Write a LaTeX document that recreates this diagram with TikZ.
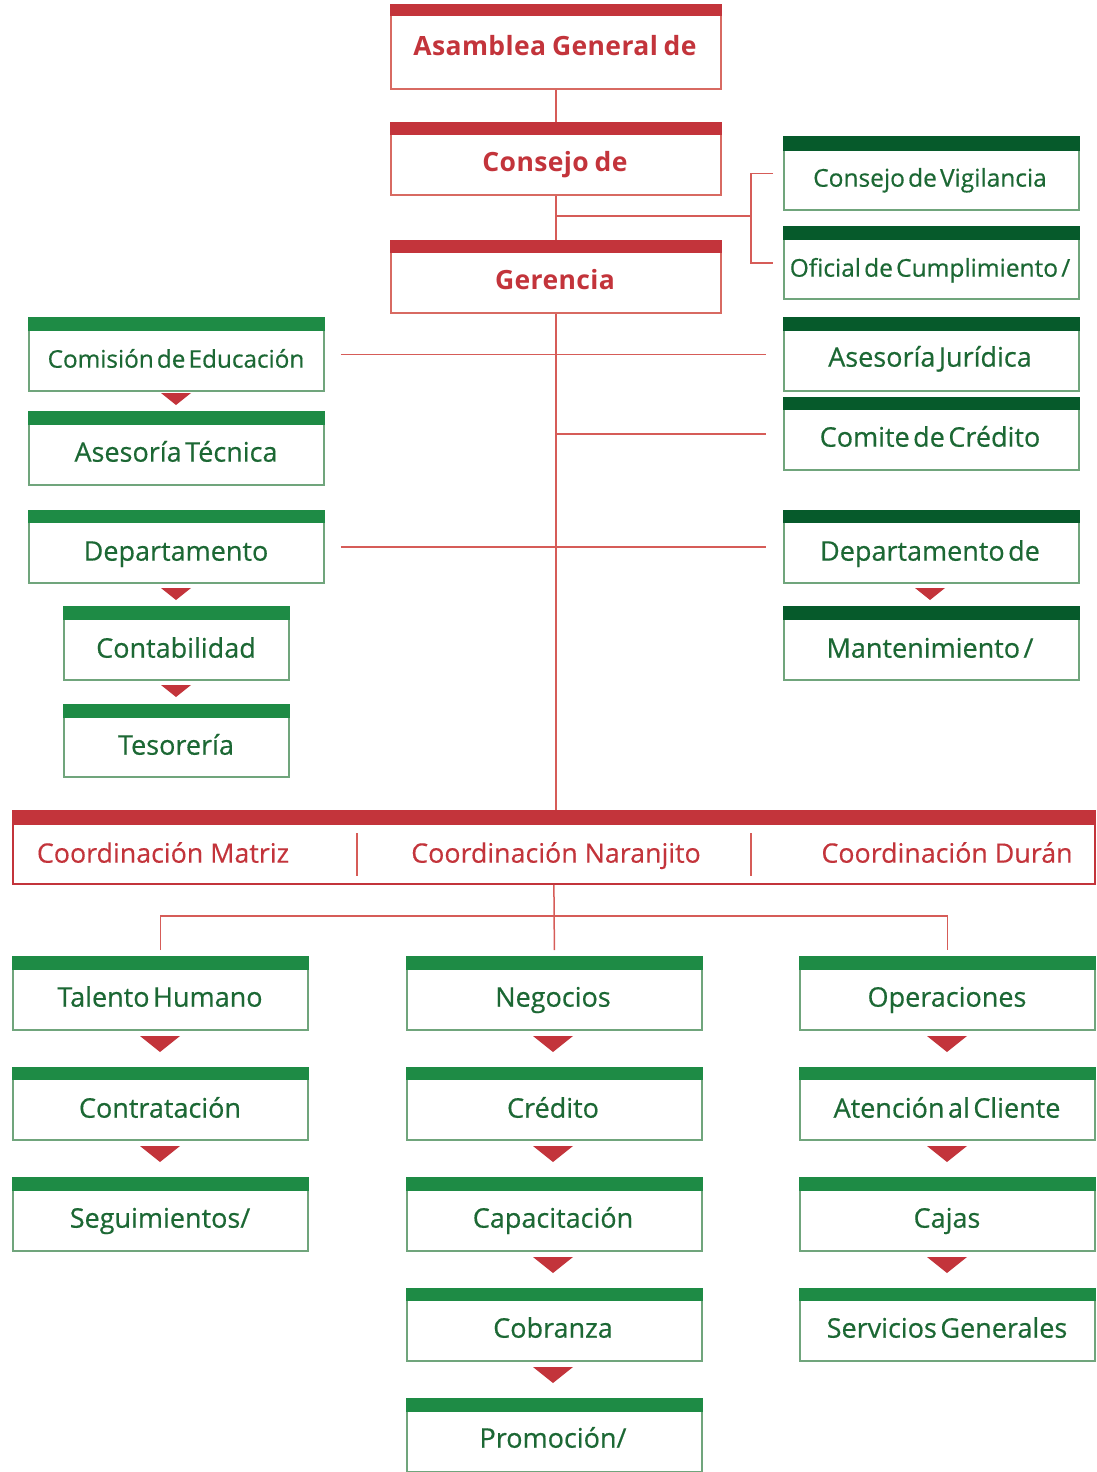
\documentclass[tikz,border=0pt]{standalone}
\usepackage{fontspec}
\setmainfont{Open Sans}
\newfontfamily\gfont[WordSpace=0.5, FakeBold=0.5]{Open Sans}
\newfontfamily\rfont[LetterSpace=1.5, WordSpace=0.8]{Open Sans}
\newfontfamily\cfont[FakeBold=0.3]{Open Sans}
\definecolor{tred}{RGB}{195,52,59}
\definecolor{lred}{RGB}{214,92,88}
\definecolor{fred}{RGB}{216,106,98}
\definecolor{gbarL}{RGB}{30,139,69}
\definecolor{gbarD}{RGB}{6,90,43}
\definecolor{gtext}{RGB}{28,104,52}
\definecolor{gframe}{RGB}{112,165,124}
\newcommand\OBox[8]{% name, x, y, w, h, frame col, bar col, bar height
  \node[obox, draw=#6, minimum width=#4pt, minimum height=#5pt] (#1) at (#2,#3) {};
  \fill[#7] (#1.north west) rectangle ([yshift=-#8pt]#1.north east);
}
\tikzset{
  obox/.style={rectangle, line width=1.8pt, anchor=north west, inner sep=0pt, fill=white},
  gtxt/.style={text=gtext, font=\gfont\fontsize{27}{28}\selectfont, anchor=mid, inner sep=0pt, yshift=-6pt},
  gsz/.style={font=\gfont\fontsize{#1}{28}\selectfont},
  rtxt/.style={text=tred, font=\rfont\fontsize{26.5}{28}\selectfont\bfseries, anchor=mid, inner sep=0pt, yshift=-6pt},
  ctxt/.style={text=tred, font=\cfont\fontsize{26.8}{28}\selectfont, anchor=mid, inner sep=0pt, yshift=-6pt},
  conn/.style={draw=lred, line width=1.5pt},
  tri/.style={fill=tred},
}
\begin{document}
\begin{tikzpicture}[x=1pt,y=-1pt]
\useasboundingbox (0,0) rectangle (1097,1472);
\coordinate (br) at (751,216);
\coordinate (hb) at (553,916);
% top red boxes
\OBox{asam}{390}{4}{330}{84}{fred}{tred}{12}
\node[rtxt] at (555,47) {Asamblea General de};
\OBox{cons}{390}{122}{330}{72}{fred}{tred}{13}
\node[rtxt] at (555,163) {Consejo de};
\OBox{ger}{390}{240}{330}{72}{fred}{tred}{13}
\node[rtxt] at (555,281) {Gerencia};
% right top
\OBox{vig}{783}{136}{295}{73}{gframe}{gbarD}{15}
\node[gtxt, gsz=24.5] at (930,178) {Consejo de Vigilancia};
\OBox{ofi}{783}{226}{295}{72}{gframe}{gbarD}{14}
\node[gtxt, gsz=24.5] at (930,268) {Oficial de Cumplimiento /};
% left
\OBox{com}{28}{317}{295}{73}{gframe}{gbarL}{14}
\node[gtxt, gsz=24.3] at (176,359) {Comisión de Educación};
\OBox{atec}{28}{411}{295}{73}{gframe}{gbarL}{14}
\node[gtxt] at (176,453) {Asesoría Técnica};
\OBox{dep}{28}{510}{295}{72}{gframe}{gbarL}{13}
\node[gtxt] at (176,552) {Departamento};
\OBox{cont}{63}{606}{225}{73}{gframe}{gbarL}{14}
\node[gtxt] at (176,649) {Contabilidad};
\OBox{tes}{63}{704}{225}{72}{gframe}{gbarL}{14}
\node[gtxt] at (176,746) {Tesorería};
% right
\OBox{ajur}{783}{317}{295}{73}{gframe}{gbarD}{14}
\node[gtxt] at (930,358) {Asesoría Jurídica};
\OBox{ccre}{783}{397}{295}{72}{gframe}{gbarD}{13}
\node[gtxt] at (930,438) {Comite de Crédito};
\OBox{dmant}{783}{510}{295}{72}{gframe}{gbarD}{13}
\node[gtxt] at (930,552) {Departamento de};
\OBox{mant}{783}{606}{295}{73}{gframe}{gbarD}{14}
\node[gtxt] at (930,649) {Mantenimiento /};
% coordination bar
\OBox{coord}{12}{810}{1082}{73}{tred}{tred}{15}
\node[ctxt] at (163,854) {Coordinación Matriz};
\node[ctxt] at (556,854) {Coordinación Naranjito};
\node[ctxt] at (947,854) {Coordinación Durán};
\draw[conn] (357,833) -- (357,876);
\draw[conn] (751,833) -- (751,876);
% bottom columns
\OBox{tal}{12}{956}{295}{73}{gframe}{gbarL}{14}
\node[gtxt] at (160,998) {Talento Humano};
\OBox{contr}{12}{1067}{295}{72}{gframe}{gbarL}{13}
\node[gtxt] at (160,1109) {Contratación};
\OBox{seg}{12}{1177}{295}{73}{gframe}{gbarL}{14}
\node[gtxt] at (160,1219) {Seguimientos/};
\OBox{neg}{406}{956}{295}{73}{gframe}{gbarL}{14}
\node[gtxt] at (553,998) {Negocios};
\OBox{cred}{406}{1067}{295}{72}{gframe}{gbarL}{13}
\node[gtxt] at (553,1109) {Crédito};
\OBox{cap}{406}{1177}{295}{73}{gframe}{gbarL}{14}
\node[gtxt] at (553,1219) {Capacitación};
\OBox{cob}{406}{1288}{295}{72}{gframe}{gbarL}{13}
\node[gtxt] at (553,1329) {Cobranza};
\OBox{prom}{406}{1398}{295}{73}{gframe}{gbarL}{14}
\node[gtxt] at (553,1439) {Promoción/};
\OBox{ope}{799}{956}{295}{73}{gframe}{gbarL}{14}
\node[gtxt] at (947,998) {Operaciones};
\OBox{aten}{799}{1067}{295}{72}{gframe}{gbarL}{13}
\node[gtxt] at (947,1109) {Atención al Cliente};
\OBox{caj}{799}{1177}{295}{73}{gframe}{gbarL}{14}
\node[gtxt] at (947,1219) {Cajas};
\OBox{serv}{799}{1288}{295}{72}{gframe}{gbarL}{13}
\node[gtxt] at (947,1329) {Servicios Generales};
% connectors
\draw[conn] (asam.south) -- (cons.north);
\draw[conn] (cons.south) -- (ger.north);
\draw[conn] (ger.south) -- (ger.south |- coord.north);
\draw[conn] (cons.south |- br) -- (br);
\draw[conn] ([xshift=-10pt]vig.west) -| (br) |- ([xshift=-10pt]ofi.west);
\draw[conn] ([xshift=16pt]com.east) -- ([xshift=-17pt]ajur.west);
\draw[conn] (ger.south |- ccre.west) -- ([xshift=-17pt]ccre.west);
\draw[conn] ([xshift=16pt]dep.east) -- ([xshift=-17pt]dmant.west);
\draw[conn] (coord.south) -- ([yshift=6pt]neg.north);
\draw[conn] ([yshift=6pt]tal.north) |- (hb) -| ([yshift=6pt]ope.north);
% triangles
\foreach \x/\y in {176/393, 176/588, 176/685, 930/588}
  \fill[tri] (\x-15,\y) -- (\x+15,\y) -- (\x,\y+12) -- cycle;
\foreach \x in {160,553,947}
  \foreach \y in {1036,1146}
    \fill[tri] (\x-20,\y) -- (\x+20,\y) -- (\x,\y+16) -- cycle;
\foreach \x/\y in {553/1257, 553/1367, 947/1257}
  \fill[tri] (\x-20,\y) -- (\x+20,\y) -- (\x,\y+16) -- cycle;
\end{tikzpicture}
\end{document}
